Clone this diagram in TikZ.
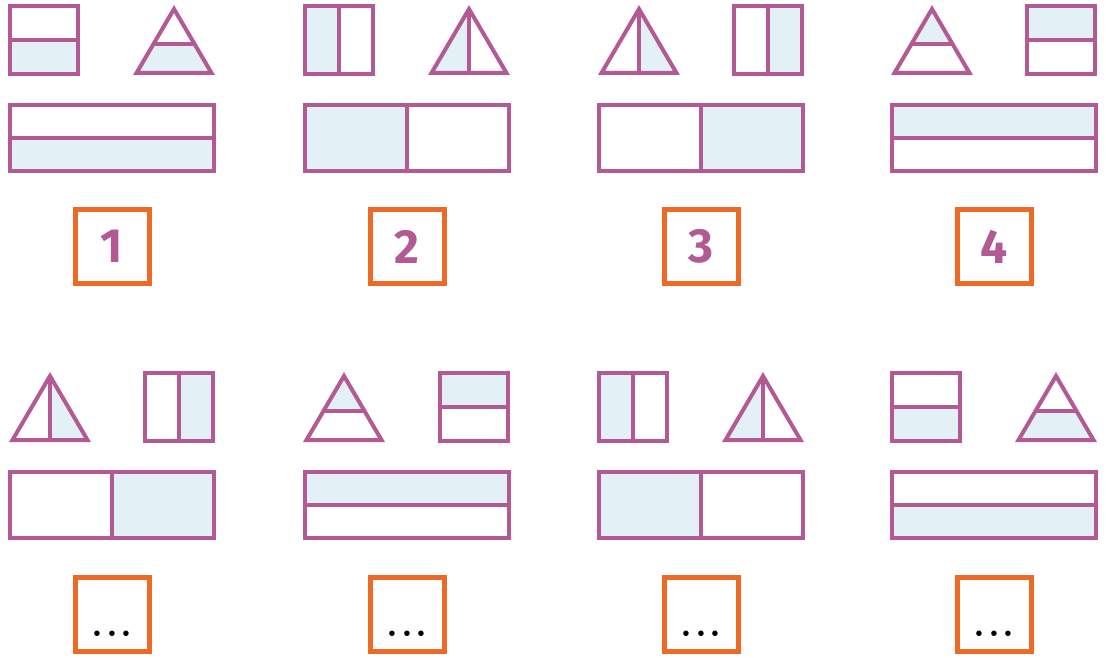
\documentclass[tikz,border=0pt]{standalone}
\usepackage{fontspec}
\newfontfamily\numfont{Fira Sans}
\definecolor{pur}{HTML}{B35A94}
\definecolor{lb}{HTML}{E3F1F7}
\definecolor{org}{HTML}{EC6A25}
\tikzset{
  pp/.style={draw=pur,line width=4pt,line join=miter},
  sh/.style={fill=lb},
  numbox/.style={draw=org,line width=5pt,minimum size=74pt,inner sep=0pt,fill=white},
  numtxt/.style={text=pur,font=\numfont\bfseries\fontsize{48}{48}\selectfont},
  dottxt/.style={text=black,font=\bfseries\fontsize{38}{38}\selectfont,anchor=base,inner sep=0pt}
}
% squares: #1 outer left, #2 outer top
\newcommand\SqT[2]{\fill[sh] ({#1+2},{#2+2}) rectangle ({#1+70},{#2+36});
  \draw[pp] ({#1+2},{#2+2}) rectangle ({#1+70},{#2+70}); \draw[pp] ({#1+2},{#2+36}) -- ({#1+70},{#2+36});}
\newcommand\SqB[2]{\fill[sh] ({#1+2},{#2+36}) rectangle ({#1+70},{#2+70});
  \draw[pp] ({#1+2},{#2+2}) rectangle ({#1+70},{#2+70}); \draw[pp] ({#1+2},{#2+36}) -- ({#1+70},{#2+36});}
\newcommand\SqL[2]{\fill[sh] ({#1+2},{#2+2}) rectangle ({#1+36},{#2+70});
  \draw[pp] ({#1+2},{#2+2}) rectangle ({#1+70},{#2+70}); \draw[pp] ({#1+36},{#2+2}) -- ({#1+36},{#2+70});}
\newcommand\SqR[2]{\fill[sh] ({#1+36},{#2+2}) rectangle ({#1+70},{#2+70});
  \draw[pp] ({#1+2},{#2+2}) rectangle ({#1+70},{#2+70}); \draw[pp] ({#1+36},{#2+2}) -- ({#1+36},{#2+70});}
% triangles: #1 outer left, #2 row top
\newcommand\TrOut[2]{\draw[pp] ({#1+41},{#2+5}) -- ({#1+78.5},{#2+69}) -- ({#1+3.5},{#2+69}) -- cycle;}
\newcommand\TrT[2]{\fill[sh] ({#1+41},{#2+5}) -- ({#1+61.6},{#2+40.2}) -- ({#1+20.4},{#2+40.2}) -- cycle;
  \TrOut{#1}{#2}\draw[pp] ({#1+20.4},{#2+40.2}) -- ({#1+61.6},{#2+40.2});}
\newcommand\TrB[2]{\fill[sh] ({#1+20.4},{#2+40.2}) -- ({#1+61.6},{#2+40.2}) -- ({#1+78.5},{#2+69}) -- ({#1+3.5},{#2+69}) -- cycle;
  \TrOut{#1}{#2}\draw[pp] ({#1+20.4},{#2+40.2}) -- ({#1+61.6},{#2+40.2});}
\newcommand\TrL[2]{\fill[sh] ({#1+41},{#2+5}) -- ({#1+41},{#2+69}) -- ({#1+3.5},{#2+69}) -- cycle;
  \TrOut{#1}{#2}\draw[pp] ({#1+41},{#2+5}) -- ({#1+41},{#2+69});}
\newcommand\TrR[2]{\fill[sh] ({#1+41},{#2+5}) -- ({#1+41},{#2+69}) -- ({#1+78.5},{#2+69}) -- cycle;
  \TrOut{#1}{#2}\draw[pp] ({#1+41},{#2+5}) -- ({#1+41},{#2+69});}
% long rectangles: #1 outer left, #2 outer top
\newcommand\RcT[2]{\fill[sh] ({#1+2},{#2+2}) rectangle ({#1+206},{#2+35});
  \draw[pp] ({#1+2},{#2+2}) rectangle ({#1+206},{#2+68}); \draw[pp] ({#1+2},{#2+35}) -- ({#1+206},{#2+35});}
\newcommand\RcB[2]{\fill[sh] ({#1+2},{#2+35}) rectangle ({#1+206},{#2+68});
  \draw[pp] ({#1+2},{#2+2}) rectangle ({#1+206},{#2+68}); \draw[pp] ({#1+2},{#2+35}) -- ({#1+206},{#2+35});}
\newcommand\RcL[2]{\fill[sh] ({#1+2},{#2+2}) rectangle ({#1+104},{#2+68});
  \draw[pp] ({#1+2},{#2+2}) rectangle ({#1+206},{#2+68}); \draw[pp] ({#1+104},{#2+2}) -- ({#1+104},{#2+68});}
\newcommand\RcR[2]{\fill[sh] ({#1+104},{#2+2}) rectangle ({#1+206},{#2+68});
  \draw[pp] ({#1+2},{#2+2}) rectangle ({#1+206},{#2+68}); \draw[pp] ({#1+104},{#2+2}) -- ({#1+104},{#2+68});}
\newcommand\mydots{.\kern2.5pt.\kern2.5pt.}
\begin{document}
\begin{tikzpicture}[x=1pt,y=-1pt]
\useasboundingbox (0,0) rectangle (1106,658);
% ---- top row ----
\SqB{8}{4}\TrB{133}{4}\RcB{8}{103}
\node[numbox,numtxt] (b1) at (112,246.5) {1};
\SqL{303}{4}\TrL{428}{4}\RcL{303}{103}
\node[numbox,numtxt] (b2) at (407,246.5) {2};
\TrR{598}{4}\SqR{732}{4}\RcR{597}{103}
\node[numbox,numtxt] (b3) at (701,246.5) {3};
\TrT{891}{4}\SqT{1025}{4}\RcT{890}{103}
\node[numbox,numtxt] (b4) at (994,246.5) {4};
% ---- bottom row ----
\TrR{9}{371}\SqR{143}{371}\RcR{8}{470}
\node[numbox] (b5) at (112,614) {};
\node[dottxt] (d5) at ([yshift=-22pt]b5.center) {\mydots};
\TrT{303}{371}\SqT{438}{371}\RcT{303}{470}
\node[numbox] (b6) at (407,614) {};
\node[dottxt] (d6) at ([yshift=-22pt]b6.center) {\mydots};
\SqL{597}{371}\TrL{722}{371}\RcL{597}{470}
\node[numbox] (b7) at (701,614) {};
\node[dottxt] (d7) at ([yshift=-22pt]b7.center) {\mydots};
\SqB{890}{371}\TrB{1015}{371}\RcB{890}{470}
\node[numbox] (b8) at (994,614) {};
\node[dottxt] (d8) at ([yshift=-22pt]b8.center) {\mydots};
\end{tikzpicture}
\end{document}
